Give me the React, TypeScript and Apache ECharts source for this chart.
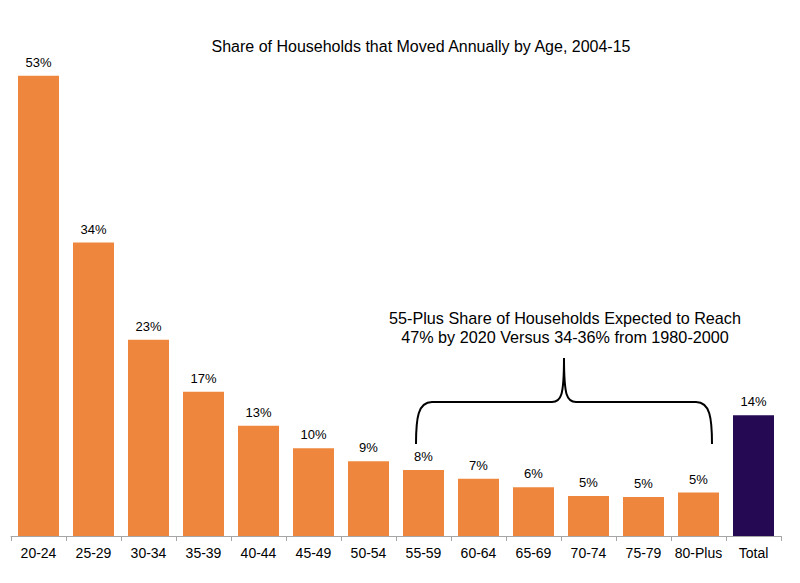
import React, { useEffect, useRef } from "react";
import * as echarts from "echarts";

const categories = ["20-24", "25-29", "30-34", "35-39", "40-44", "45-49", "50-54", "55-59", "60-64", "65-69", "70-74", "75-79", "80-Plus", "Total"];
const values = [53.0, 33.8, 22.6, 16.6, 12.7, 10.1, 8.6, 7.6, 6.6, 5.6, 4.6, 4.5, 5.0, 13.9];
const title = "Share of Households that Moved Annually by Age, 2004-15";
const noteLines = ["55-Plus Share of Households Expected to Reach", "47% by 2020 Versus 34-36% from 1980-2000"];

const ORANGE = "#EE873D";
const PURPLE = "#250952";
const FONT = "Liberation Sans, Arial, sans-serif";

const bracePath =
  "M416 444 C416 418 418 402 432 402 L552 402 C561 402 564 396 564 358 C564 396 567 402 576 402 L696 402 C710 402 712 418 712 444";

export default function App() {
  const ref = useRef<HTMLDivElement>(null);
  useEffect(() => {
    document.body.style.margin = "0";
    echarts.graphic.registerShape("brace", echarts.graphic.extendPath(bracePath, {}) as any);
    const chart = echarts.init(ref.current!, undefined, { renderer: "svg" });
    chart.setOption({
      animation: false,
      title: {
        text: title,
        left: 416,
        textAlign: "center",
        top: 33,
        textStyle: { fontFamily: FONT, fontSize: 16, fontWeight: "normal", color: "#000" },
      },
      grid: { left: 11, right: 19, top: 15, bottom: 47 },
      xAxis: {
        type: "category",
        data: categories,
        axisLine: { lineStyle: { color: "#A6A6A6", width: 1 } },
        axisTick: { show: true, length: 5, lineStyle: { color: "#A6A6A6" } },
        axisLabel: { fontFamily: FONT, fontSize: 14, color: "#000", margin: 10, interval: 0 },
      },
      yAxis: { type: "value", min: 0, max: 60, show: false, splitLine: { show: false } },
      series: [
        {
          type: "bar",
          data: values.map((v, i) => ({
            value: v,
            itemStyle: { color: i === values.length - 1 ? PURPLE : ORANGE },
          })),
          barWidth: 41,
          label: {
            show: true,
            position: "top",
            distance: 7,
            fontFamily: FONT,
            fontSize: 13,
            color: "#000",
            formatter: (p: any) => Math.round(p.value) + "%",
          },
        },
      ],
      graphic: [
        {
          type: "brace",
          x: 0,
          y: 0,
          style: { fill: "none", stroke: "#000", lineWidth: 2 },
        },
        {
          type: "text",
          x: 565,
          y: 318,
          style: {
            text: noteLines[0],
            fontFamily: FONT,
            fontSize: 16.2,
            fill: "#000",
            align: "center",
            verticalAlign: "middle",
          },
        },
        {
          type: "text",
          x: 565,
          y: 337,
          style: {
            text: noteLines[1],
            fontFamily: FONT,
            fontSize: 16.2,
            fill: "#000",
            align: "center",
            verticalAlign: "middle",
          },
        },
      ],
    });
    return () => chart.dispose();
  }, []);
  return <div ref={ref} style={{ width: 800, height: 583 }} />;
}
